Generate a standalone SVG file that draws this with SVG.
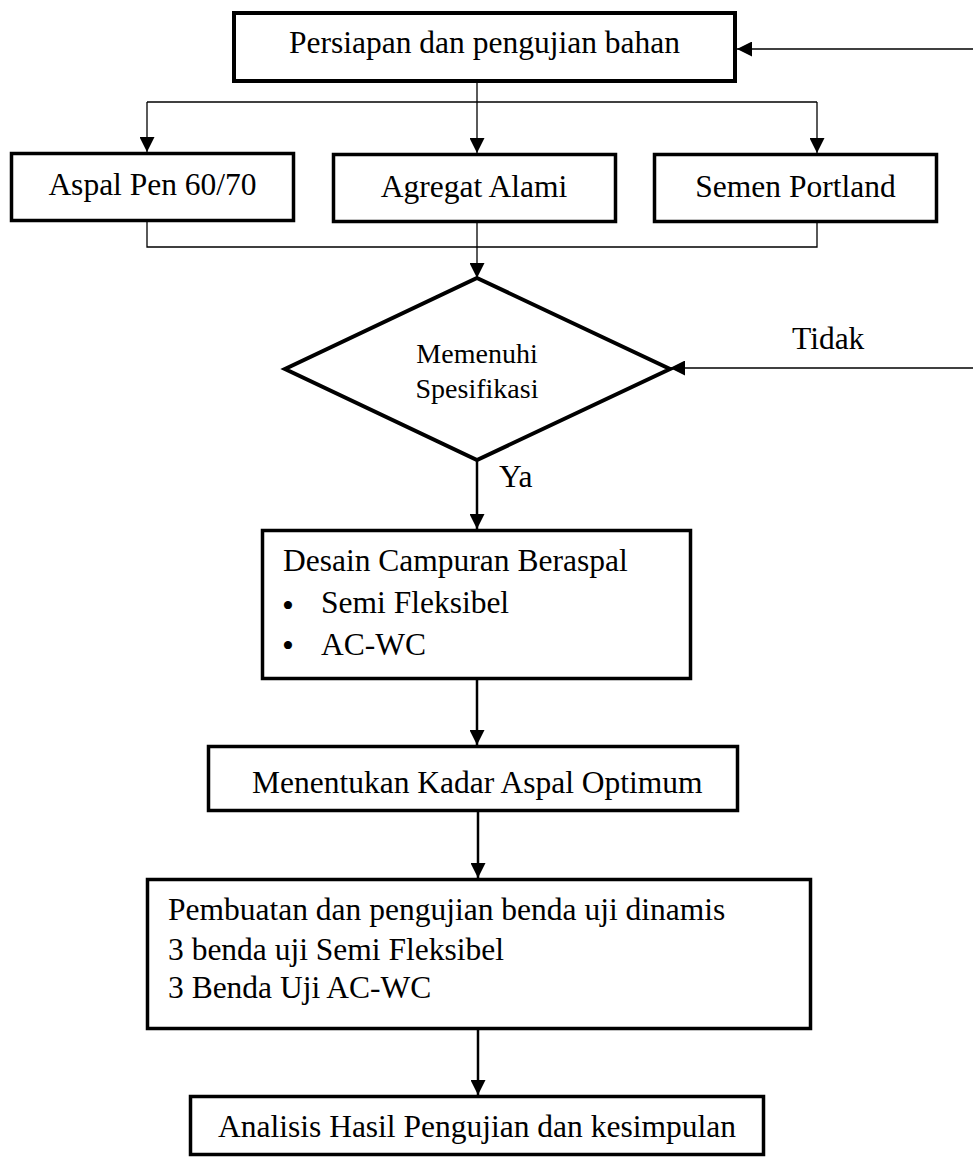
<svg xmlns="http://www.w3.org/2000/svg" width="973" height="1160" viewBox="0 0 973 1160">
<style>
.box{fill:#fff;stroke:#000;stroke-width:3.5}
.t{font-family:"Liberation Serif","Times New Roman",serif;font-size:31.5px;fill:#000}
.ts{font-family:"Liberation Serif","Times New Roman",serif;font-size:28px;fill:#000}
.bul{font-family:"Liberation Serif","Times New Roman",serif;font-size:34px;fill:#000}
.thin{fill:none;stroke:#000;stroke-width:1.3}
.thick{fill:none;stroke:#000;stroke-width:2.5}
</style>
<defs>
<marker id="ah" markerWidth="15" markerHeight="15" refX="15" refY="7.5" orient="auto" markerUnits="userSpaceOnUse">
<path d="M0,0 L15,7.5 L0,15 z" fill="#000"/>
</marker>
</defs>
<rect width="973" height="1160" fill="#fff"/>
<g id="connectors">
<line class="thin" x1="973" y1="49" x2="737" y2="49" marker-end="url(#ah)"/>
<line class="thin" x1="477" y1="83" x2="477" y2="153" marker-end="url(#ah)"/>
<polyline class="thin" points="147,102 817,102"/>
<line class="thin" x1="147" y1="102" x2="147" y2="152" marker-end="url(#ah)"/>
<line class="thin" x1="817" y1="102" x2="817" y2="153" marker-end="url(#ah)"/>
<polyline class="thin" points="147,222 147,247 817,247 817,223"/>
<line class="thin" x1="477" y1="223" x2="477" y2="278" marker-end="url(#ah)"/>
<line class="thin" x1="973" y1="368" x2="670" y2="368" marker-end="url(#ah)"/>
<line class="thick" x1="477" y1="460" x2="477" y2="529" marker-end="url(#ah)"/>
<line class="thick" x1="477" y1="680" x2="477" y2="745" marker-end="url(#ah)"/>
<line class="thick" x1="478" y1="812" x2="478" y2="878" marker-end="url(#ah)"/>
<line class="thick" x1="478" y1="1030" x2="478" y2="1095" marker-end="url(#ah)"/>
<text class="t" x="792" y="349">Tidak</text>
<text class="t" x="499" y="487">Ya</text>
</g>
<g id="n-persiapan">
<rect class="box" x="234" y="13" width="501" height="68" style="stroke-width:4"/>
<text class="t" x="484.5" y="53" text-anchor="middle">Persiapan dan pengujian bahan</text>
</g>
<g id="n-aspal">
<rect class="box" x="11.5" y="153.5" width="282" height="67"/>
<text class="t" x="152.5" y="195" text-anchor="middle">Aspal Pen 60/70</text>
</g>
<g id="n-agregat">
<rect class="box" x="333.5" y="154.5" width="282" height="67"/>
<text class="t" x="474" y="197" text-anchor="middle">Agregat Alami</text>
</g>
<g id="n-semen">
<rect class="box" x="654.5" y="154.5" width="282" height="67"/>
<text class="t" x="795.5" y="197" text-anchor="middle">Semen Portland</text>
</g>
<g id="n-spesifikasi">
<polygon class="box" points="477,278 670,369 477,460 285,369" style="stroke-width:4"/>
<text class="ts" x="477" y="363" text-anchor="middle">Memenuhi</text>
<text class="ts" x="477" y="398" text-anchor="middle">Spesifikasi</text>
</g>
<g id="n-desain">
<rect class="box" x="262.5" y="530.5" width="428" height="148"/>
<text class="t" x="283" y="571">Desain Campuran Beraspal</text>
<text class="bul" x="282" y="617">•</text>
<text class="t" x="321" y="613">Semi Fleksibel</text>
<text class="bul" x="282" y="657">•</text>
<text class="t" x="321" y="655">AC-WC</text>
</g>
<g id="n-kadar">
<rect class="box" x="208.5" y="746.5" width="529" height="64"/>
<text class="t" x="252" y="793">Menentukan Kadar Aspal Optimum</text>
</g>
<g id="n-pembuatan">
<rect class="box" x="147.5" y="879.5" width="663" height="149"/>
<text class="t" x="168" y="920">Pembuatan dan pengujian benda uji dinamis</text>
<text class="t" x="168" y="960">3 benda uji Semi Fleksibel</text>
<text class="t" x="168" y="998">3 Benda Uji AC-WC</text>
</g>
<g id="n-analisis">
<rect class="box" x="190.5" y="1096.5" width="573" height="58"/>
<text class="t" x="218" y="1137">Analisis Hasil Pengujian dan kesimpulan</text>
</g>
</svg>
